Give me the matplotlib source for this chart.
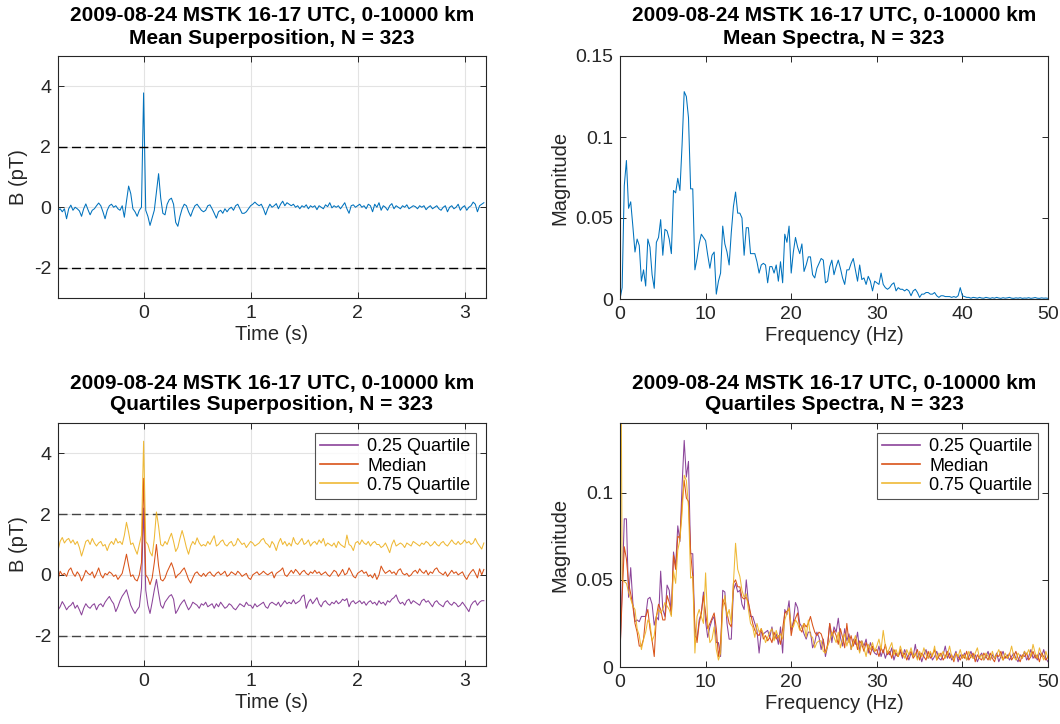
import numpy as np
import matplotlib
matplotlib.use("Agg")
import matplotlib.pyplot as plt
from matplotlib import ticker

plt.rcParams['font.family'] = ['Liberation Sans', 'DejaVu Sans']
plt.rcParams['axes.unicode_minus'] = False

# time axis: samples every 0.02 s starting at -0.8 s
t_start = -0.8
dt = 0.02
# spectra: 0.25 Hz bins starting at 0 Hz
df = 0.25

title_line1 = "2009-08-24 MSTK 16-17 UTC, 0-10000 km"
n_events = 323
legend_labels = ["0.25 Quartile", "Median", "0.75 Quartile"]

mean_b = [
    -0.10, -0.05, -0.15, -0.05, -0.38, -0.05, 0.07, -0.10, 0.00, -0.05,
    -0.12, -0.30, -0.05, 0.11, -0.08, -0.25, -0.10, -0.05, 0.05, 0.14,
    0.05, -0.15, -0.38, -0.10, 0.05, 0.10, 0.00, 0.05, -0.05, -0.10,
    0.05, -0.33, 0.20, 0.70, 0.45, -0.05, -0.15, -0.30, -0.10, 0.00,
    3.78, -0.10, -0.30, -0.60, -0.35, -0.10, 0.50, 1.11, 0.30, -0.20,
    -0.25, 0.10, 0.25, 0.30, 0.10, -0.50, -0.63, -0.30, -0.05, 0.10,
    0.05, -0.15, -0.30, -0.10, 0.05, 0.10, 0.00, -0.10, -0.15, -0.10,
    0.05, 0.08, -0.05, -0.20, -0.36, -0.15, -0.10, -0.20, -0.05, -0.15,
    -0.05, 0.00, -0.10, 0.05, 0.10, -0.05, -0.20, -0.20, -0.15, -0.05,
    0.05, 0.10, 0.17, 0.10, 0.05, 0.10, -0.05, -0.25, -0.05, 0.10,
    0.00, 0.05, 0.12, -0.05, 0.10, 0.20, 0.05, 0.15, 0.10, 0.05,
    0.10, 0.00, 0.05, -0.05, 0.05, 0.00, 0.08, -0.05, 0.05, 0.00,
    0.05, -0.08, 0.05, 0.00, -0.05, 0.08, 0.02, 0.15, -0.02, 0.05,
    0.00, 0.05, -0.05, 0.05, 0.15, -0.05, -0.20, 0.05, 0.08, 0.00,
    0.05, 0.10, 0.00, 0.05, -0.05, 0.10, 0.05, -0.15, 0.10, 0.00,
    0.15, -0.10, 0.05, 0.00, -0.10, 0.05, 0.12, -0.05, 0.05, 0.00,
    -0.05, 0.05, 0.00, 0.08, -0.05, 0.00, 0.05, 0.02, -0.05, 0.05,
    0.00, 0.05, -0.08, 0.00, 0.05, -0.05, 0.00, 0.05, -0.05, -0.10,
    0.00, 0.05, -0.15, 0.00, 0.05, -0.05, 0.00, 0.10, -0.10, 0.00,
    0.05, -0.10, 0.00, 0.05, 0.17, 0.10, -0.15, 0.05, 0.10, 0.15,
]

q25_b = [
    -1.16, -1.05, -0.88, -1.00, -1.15, -1.05, -1.00, -0.90, -1.10, -1.00,
    -1.15, -1.32, -1.10, -0.95, -1.05, -1.10, -1.00, -0.95, -1.15, -1.00,
    -0.95, -1.05, -0.90, -0.80, -0.71, -0.85, -0.95, -1.21, -1.05, -0.85,
    -0.70, -0.60, -0.49, -0.75, -1.00, -1.15, -1.27, -1.15, -1.05, -0.43,
    2.20, -0.50, -1.00, -1.27, -0.90, -0.50, -0.15, -0.60, -1.00, -1.10,
    -0.90, -0.80, -0.70, -0.65, -0.80, -1.27, -1.15, -1.00, -0.90, -0.82,
    -1.00, -1.15, -1.05, -0.90, -0.95, -1.00, -1.10, -0.95, -1.00, -0.90,
    -1.05, -1.00, -0.95, -1.10, -0.95, -1.05, -0.90, -1.00, -1.10, -1.05,
    -0.95, -1.00, -1.10, -1.15, -1.05, -0.95, -1.00, -1.05, -0.90, -1.00,
    -1.00, -1.10, -0.95, -1.05, -1.00, -0.95, -0.90, -1.05, -1.10, -0.95,
    -0.90, -0.95, -1.00, -0.90, -1.05, -0.95, -0.85, -0.95, -0.90, -0.95,
    -0.82, -0.95, -0.90, -0.85, -0.71, -0.66, -1.10, -0.90, -0.80, -0.95,
    -0.85, -0.75, -0.95, -1.05, -0.90, -0.85, -0.95, -1.00, -0.90, -0.95,
    -0.85, -0.95, -0.90, -0.80, -0.85, -0.78, -1.05, -0.90, -0.85, -0.95,
    -0.90, -0.85, -0.95, -0.88, -1.00, -0.90, -0.85, -0.95, -0.90, -1.00,
    -0.85, -0.95, -0.90, -1.00, -0.85, -0.90, -0.80, -0.75, -0.66, -0.85,
    -0.95, -0.90, -1.00, -0.85, -0.80, -0.95, -0.85, -0.90, -0.95, -1.00,
    -0.85, -0.80, -0.90, -0.85, -0.95, -1.05, -0.90, -0.85, -0.95, -1.00,
    -1.05, -0.90, -0.85, -0.95, -1.00, -0.90, -0.95, -1.05, -1.00, -0.90,
    -1.00, -1.10, -1.21, -1.00, -0.90, -0.85, -1.00, -0.90, -0.85, -0.85,
]

median_b = [
    -0.15, 0.12, 0.00, 0.05, -0.05, 0.15, 0.23, 0.05, -0.05, 0.10,
    0.00, -0.20, -0.05, 0.15, 0.05, 0.00, 0.10, -0.10, 0.05, 0.23,
    0.00, -0.10, 0.05, 0.00, 0.10, 0.05, -0.05, 0.00, -0.15, -0.05,
    0.05, 0.35, 0.68, 0.30, -0.05, 0.00, -0.15, -0.20, 0.00, 0.40,
    3.18, 0.00, -0.10, -0.32, -0.10, 0.40, 1.00, 0.30, -0.15, -0.20,
    -0.10, 0.10, 0.25, 0.40, 0.20, -0.10, 0.00, 0.05, 0.15, 0.23,
    0.05, -0.15, -0.27, -0.10, 0.05, 0.10, 0.00, -0.05, 0.05, -0.05,
    0.05, 0.10, 0.00, -0.05, 0.05, 0.10, 0.00, 0.05, 0.12, -0.05,
    0.00, 0.10, 0.05, 0.00, 0.12, 0.05, -0.05, 0.00, 0.05, -0.10,
    -0.15, 0.00, 0.05, 0.10, 0.00, 0.05, 0.12, 0.05, 0.00, 0.05,
    0.10, -0.10, 0.05, 0.10, 0.15, 0.23, 0.00, -0.05, 0.05, 0.15,
    0.05, 0.18, 0.10, 0.00, 0.10, 0.15, 0.05, 0.00, 0.10, 0.05,
    0.15, 0.05, 0.10, 0.00, 0.05, 0.10, 0.00, -0.05, 0.05, 0.15,
    0.10, -0.05, 0.05, 0.18, 0.00, 0.05, 0.23, 0.10, -0.05, -0.10,
    0.05, 0.10, 0.15, 0.05, 0.10, -0.05, 0.00, -0.10, 0.05, -0.15,
    0.00, 0.29, 0.15, 0.05, 0.10, 0.15, 0.05, 0.10, 0.00, 0.15,
    0.20, 0.05, 0.00, 0.05, -0.05, 0.00, 0.10, 0.15, 0.05, 0.20,
    0.10, 0.05, 0.15, 0.00, 0.10, 0.05, 0.18, 0.23, 0.10, 0.05,
    0.00, 0.10, -0.05, 0.05, 0.15, 0.05, 0.10, 0.00, 0.05, 0.10,
    -0.05, -0.15, 0.00, 0.10, 0.18, 0.05, -0.10, 0.20, 0.00, 0.18,
]

q75_b = [
    0.80, 1.10, 1.23, 1.05, 1.15, 1.20, 1.05, 1.15, 1.00, 1.10,
    0.90, 0.62, 0.85, 1.10, 1.15, 1.00, 1.20, 1.05, 0.95, 1.05,
    1.10, 0.95, 1.00, 0.80, 1.00, 1.10, 1.00, 1.20, 1.05, 1.10,
    1.00, 1.30, 1.73, 1.40, 1.00, 1.05, 0.85, 0.68, 1.00, 1.30,
    4.40, 1.10, 1.00, 0.75, 0.62, 1.20, 2.07, 1.60, 1.00, 0.95,
    1.10, 1.00, 1.20, 1.37, 1.10, 0.77, 0.90, 1.20, 1.46, 1.20,
    0.90, 0.68, 0.95, 1.10, 1.00, 1.22, 1.05, 0.95, 1.00, 0.95,
    1.10, 1.00, 1.15, 1.29, 0.95, 1.00, 1.10, 1.15, 1.00, 0.95,
    1.05, 1.10, 0.95, 1.00, 1.20, 1.10, 1.00, 1.05, 0.90, 1.00,
    1.10, 1.05, 0.95, 1.00, 1.05, 1.15, 1.20, 1.05, 1.00, 0.90,
    1.10, 1.00, 0.80, 1.05, 1.20, 1.00, 1.10, 0.95, 1.05, 0.95,
    1.23, 1.05, 1.00, 1.10, 1.20, 1.00, 1.05, 1.15, 0.95, 1.05,
    1.10, 1.00, 1.15, 1.05, 1.20, 0.95, 1.05, 1.00, 0.95, 1.05,
    0.90, 1.10, 1.00, 0.95, 0.90, 1.31, 1.00, 0.95, 0.80, 1.05,
    1.10, 1.00, 1.15, 1.05, 1.00, 1.10, 0.95, 1.05, 1.10, 1.00,
    1.00, 0.90, 0.95, 1.05, 0.90, 0.73, 1.00, 1.15, 0.95, 1.00,
    1.05, 1.00, 0.90, 1.05, 1.00, 0.95, 1.10, 1.05, 1.00, 0.95,
    1.05, 1.00, 1.10, 1.05, 0.95, 1.00, 1.10, 1.00, 0.95, 1.05,
    1.10, 1.00, 0.95, 1.05, 1.15, 1.05, 1.00, 1.10, 1.00, 1.05,
    1.15, 1.05, 1.10, 1.00, 1.05, 1.20, 1.05, 0.95, 0.85, 1.05,
]

mean_spec = [
    0.000, 0.007, 0.070, 0.0855, 0.056, 0.060, 0.045, 0.029, 0.037, 0.033,
    0.011, 0.018, 0.008, 0.037, 0.032, 0.015, 0.0066, 0.035, 0.038, 0.049,
    0.027, 0.043, 0.042, 0.037, 0.028, 0.067, 0.0655, 0.0745, 0.067, 0.095,
    0.128, 0.125, 0.112, 0.068, 0.068, 0.018, 0.025, 0.034, 0.040, 0.038,
    0.036, 0.027, 0.019, 0.027, 0.029, 0.003, 0.011, 0.016, 0.045, 0.034,
    0.029, 0.021, 0.041, 0.057, 0.066, 0.053, 0.053, 0.050, 0.027, 0.044,
    0.044, 0.028, 0.028, 0.028, 0.023, 0.016, 0.021, 0.022, 0.021, 0.010,
    0.020, 0.020, 0.016, 0.021, 0.011, 0.023, 0.010, 0.040, 0.035, 0.045,
    0.016, 0.029, 0.038, 0.032, 0.028, 0.034, 0.017, 0.021, 0.026, 0.026,
    0.015, 0.013, 0.019, 0.022, 0.025, 0.024, 0.010, 0.011, 0.020, 0.024,
    0.015, 0.020, 0.024, 0.019, 0.013, 0.009, 0.018, 0.018, 0.022, 0.025,
    0.018, 0.011, 0.021, 0.012, 0.013, 0.009, 0.014, 0.011, 0.005, 0.011,
    0.010, 0.009, 0.016, 0.009, 0.007, 0.006, 0.007, 0.009, 0.010, 0.005,
    0.007, 0.006, 0.006, 0.005, 0.006, 0.005, 0.002, 0.005, 0.006, 0.004,
    0.001, 0.003, 0.003, 0.004, 0.004, 0.003, 0.003, 0.004, 0.002, 0.001,
    0.002, 0.002, 0.0015, 0.0015, 0.0015, 0.001, 0.0015, 0.001, 0.002, 0.007,
    0.002, 0.0015, 0.001, 0.001, 0.0005, 0.001, 0.0008, 0.0005, 0.001, 0.0006,
    0.0005, 0.001, 0.0007, 0.0004, 0.0008, 0.0005, 0.001, 0.0006, 0.0004, 0.0008,
    0.0005, 0.0007, 0.001, 0.0005, 0.0004, 0.0007, 0.0005, 0.0008, 0.0004, 0.0006,
    0.0005, 0.0008, 0.0004, 0.0006, 0.0009, 0.0005, 0.0004, 0.0007, 0.0005, 0.0006,
    0.0004,
]

q25_spec = [
    0.008, 0.045, 0.085, 0.085, 0.040, 0.057, 0.037, 0.026, 0.027, 0.026,
    0.029, 0.029, 0.029, 0.039, 0.040, 0.036, 0.024, 0.029, 0.027, 0.055,
    0.033, 0.029, 0.047, 0.044, 0.030, 0.066, 0.058, 0.081, 0.072, 0.104,
    0.130, 0.109, 0.118, 0.065, 0.065, 0.018, 0.016, 0.027, 0.031, 0.043,
    0.026, 0.017, 0.023, 0.027, 0.029, 0.014, 0.014, 0.006, 0.044, 0.043,
    0.025, 0.016, 0.016, 0.044, 0.048, 0.043, 0.044, 0.036, 0.033, 0.050,
    0.037, 0.029, 0.029, 0.025, 0.021, 0.008, 0.020, 0.019, 0.020, 0.021,
    0.017, 0.023, 0.016, 0.019, 0.013, 0.023, 0.008, 0.033, 0.030, 0.038,
    0.021, 0.026, 0.037, 0.034, 0.025, 0.023, 0.019, 0.016, 0.020, 0.020,
    0.011, 0.014, 0.020, 0.017, 0.010, 0.016, 0.006, 0.012, 0.025, 0.014,
    0.023, 0.020, 0.028, 0.017, 0.012, 0.022, 0.015, 0.019, 0.010, 0.016,
    0.013, 0.020, 0.009, 0.015, 0.012, 0.016, 0.008, 0.014, 0.010, 0.008,
    0.007, 0.012, 0.006, 0.010, 0.005, 0.009, 0.007, 0.011, 0.004, 0.008,
    0.006, 0.009, 0.005, 0.010, 0.007, 0.004, 0.008, 0.006, 0.013, 0.005,
    0.008, 0.003, 0.007, 0.010, 0.005, 0.008, 0.004, 0.006, 0.009, 0.005,
    0.004, 0.007, 0.012, 0.005, 0.008, 0.004, 0.006, 0.009, 0.003, 0.007,
    0.005, 0.008, 0.004, 0.006, 0.009, 0.005, 0.007, 0.003, 0.006, 0.008,
    0.004, 0.006, 0.009, 0.004, 0.007, 0.005, 0.008, 0.003, 0.006, 0.009,
    0.005, 0.007, 0.004, 0.006, 0.008, 0.005, 0.003, 0.007, 0.005, 0.009,
    0.004, 0.006, 0.010, 0.005, 0.007, 0.004, 0.008, 0.006, 0.010, 0.005,
    0.003,
]

median_spec = [
    0.008, 0.040, 0.069, 0.062, 0.048, 0.042, 0.035, 0.025, 0.020, 0.012,
    0.012, 0.016, 0.029, 0.033, 0.022, 0.015, 0.006, 0.029, 0.036, 0.033,
    0.027, 0.027, 0.041, 0.037, 0.031, 0.064, 0.056, 0.075, 0.074, 0.094,
    0.107, 0.097, 0.095, 0.066, 0.052, 0.023, 0.014, 0.025, 0.031, 0.041,
    0.031, 0.022, 0.025, 0.028, 0.031, 0.022, 0.006, 0.014, 0.039, 0.036,
    0.031, 0.025, 0.023, 0.048, 0.050, 0.046, 0.046, 0.040, 0.039, 0.040,
    0.037, 0.031, 0.025, 0.021, 0.019, 0.018, 0.022, 0.016, 0.018, 0.015,
    0.017, 0.014, 0.020, 0.016, 0.018, 0.013, 0.022, 0.031, 0.032, 0.033,
    0.018, 0.025, 0.028, 0.031, 0.022, 0.020, 0.025, 0.023, 0.025, 0.029,
    0.024, 0.020, 0.018, 0.020, 0.019, 0.015, 0.008, 0.013, 0.025, 0.018,
    0.021, 0.018, 0.013, 0.022, 0.017, 0.011, 0.025, 0.014, 0.018, 0.012,
    0.016, 0.010, 0.015, 0.013, 0.009, 0.014, 0.011, 0.007, 0.012, 0.009,
    0.010, 0.006, 0.011, 0.008, 0.013, 0.007, 0.009, 0.005, 0.010, 0.007,
    0.006, 0.010, 0.006, 0.008, 0.004, 0.007, 0.009, 0.005, 0.007, 0.010,
    0.004, 0.008, 0.006, 0.004, 0.009, 0.005, 0.007, 0.010, 0.004, 0.006,
    0.008, 0.004, 0.006, 0.009, 0.005, 0.007, 0.003, 0.008, 0.006, 0.004,
    0.007, 0.005, 0.009, 0.004, 0.006, 0.008, 0.003, 0.007, 0.005, 0.004,
    0.008, 0.006, 0.004, 0.008, 0.005, 0.003, 0.007, 0.006, 0.009, 0.004,
    0.006, 0.005, 0.008, 0.004, 0.006, 0.009, 0.005, 0.003, 0.007, 0.006,
    0.008, 0.004, 0.006, 0.009, 0.005, 0.007, 0.003, 0.008, 0.006, 0.004,
    0.006,
]

q75_spec = [
    0.300, 0.050, 0.049, 0.048, 0.043, 0.039, 0.035, 0.033, 0.022, 0.018,
    0.010, 0.016, 0.020, 0.027, 0.025, 0.015, 0.018, 0.029, 0.033, 0.031,
    0.033, 0.037, 0.035, 0.033, 0.029, 0.055, 0.048, 0.067, 0.073, 0.088,
    0.110, 0.107, 0.092, 0.051, 0.052, 0.008, 0.029, 0.033, 0.029, 0.025,
    0.054, 0.025, 0.014, 0.016, 0.023, 0.010, 0.004, 0.008, 0.033, 0.041,
    0.029, 0.033, 0.025, 0.048, 0.071, 0.056, 0.052, 0.044, 0.040, 0.042,
    0.033, 0.025, 0.023, 0.017, 0.025, 0.020, 0.022, 0.019, 0.014, 0.017,
    0.020, 0.022, 0.015, 0.021, 0.017, 0.019, 0.016, 0.027, 0.031, 0.034,
    0.023, 0.023, 0.027, 0.025, 0.021, 0.023, 0.025, 0.017, 0.027, 0.018,
    0.017, 0.011, 0.014, 0.015, 0.015, 0.009, 0.008, 0.012, 0.015, 0.020,
    0.017, 0.014, 0.020, 0.011, 0.016, 0.019, 0.012, 0.017, 0.010, 0.014,
    0.018, 0.013, 0.008, 0.015, 0.011, 0.006, 0.013, 0.010, 0.014, 0.009,
    0.012, 0.016, 0.010, 0.021, 0.012, 0.008, 0.011, 0.014, 0.007, 0.010,
    0.006, 0.012, 0.008, 0.005, 0.010, 0.007, 0.011, 0.006, 0.008, 0.004,
    0.009, 0.006, 0.011, 0.007, 0.005, 0.009, 0.006, 0.012, 0.004, 0.008,
    0.006, 0.009, 0.005, 0.007, 0.012, 0.006, 0.004, 0.008, 0.006, 0.010,
    0.005, 0.007, 0.004, 0.009, 0.006, 0.005, 0.008, 0.011, 0.005, 0.007,
    0.004, 0.008, 0.006, 0.004, 0.009, 0.005, 0.007, 0.010, 0.006, 0.004,
    0.008, 0.005, 0.007, 0.012, 0.006, 0.004, 0.008, 0.006, 0.005, 0.009,
    0.007, 0.010, 0.006, 0.013, 0.008, 0.005, 0.011, 0.007, 0.004, 0.009,
    0.005,
]

BLUE = '#0072BD'
PURPLE = '#7E2F8E'
ORANGE = '#D95319'
YELLOW = '#EDB120'
AX_COL = '#262626'
LW = 0.75


def time_axis(values):
    return t_start + dt * np.arange(len(values))


def freq_axis(values):
    return df * np.arange(len(values))


def style_axes(ax, grid=False):
    for s in ax.spines.values():
        s.set_color(AX_COL)
        s.set_linewidth(0.8)
    ax.tick_params(direction='in', length=4, width=0.7, colors=AX_COL,
                   labelsize=14, top=True, right=True, pad=5)
    ax.yaxis.set_major_formatter(ticker.FuncFormatter(lambda v, p: '%g' % v))
    ax.xaxis.set_major_formatter(ticker.FuncFormatter(lambda v, p: '%g' % v))
    if grid:
        ax.grid(True, color='#e3e3e3', lw=0.8)
        ax.set_axisbelow(True)


def set_title(ax, second):
    ax.set_title(title_line1 + "\n" + second + ", N = %d" % n_events,
                 fontsize=15, fontweight='bold', color='black',
                 linespacing=1.2, pad=9)


def labels(ax, xl, yl):
    ax.set_xlabel(xl, fontsize=14.5, color=AX_COL, labelpad=2)
    ax.set_ylabel(yl, fontsize=14.5, color=AX_COL, labelpad=4)


def add_legend(ax):
    leg = ax.legend(loc='upper right', fontsize=13, frameon=True, fancybox=False,
                    handlelength=2.1, borderpad=0.3, labelspacing=0.12,
                    handletextpad=0.5, borderaxespad=0.55)
    leg.get_frame().set_edgecolor(AX_COL)
    leg.get_frame().set_linewidth(0.8)
    for line in leg.get_lines():
        line.set_linewidth(1.2)


fig = plt.figure(figsize=(10.6, 7.24), dpi=100)
W, H = 1060.0, 724.0
ax_tl = fig.add_axes([58 / W, 1 - 298 / H, 428 / W, 242 / H])
ax_tr = fig.add_axes([620 / W, 1 - 299 / H, 428 / W, 243 / H])
ax_bl = fig.add_axes([58 / W, 1 - 666 / H, 428 / W, 243 / H])
ax_br = fig.add_axes([620 / W, 1 - 667 / H, 428 / W, 244 / H])

dash = (0, (6.5, 3.2))

# mean superposition
ax = ax_tl
style_axes(ax, grid=True)
ax.plot(time_axis(mean_b), mean_b, color=BLUE, lw=LW)
ax.axhline(2, color='black', ls=dash, lw=1.0)
ax.axhline(-2, color='black', ls=dash, lw=1.0)
ax.set_xlim(-0.8, 3.2)
ax.set_ylim(-3, 5)
ax.set_xticks([0, 1, 2, 3])
ax.set_yticks([-2, 0, 2, 4])
labels(ax, 'Time (s)', 'B (pT)')
set_title(ax, "Mean Superposition")

# mean spectra
ax = ax_tr
style_axes(ax)
ax.plot(freq_axis(mean_spec), mean_spec, color=BLUE, lw=LW)
ax.set_xlim(0, 50)
ax.set_ylim(0, 0.15)
ax.set_xticks([0, 10, 20, 30, 40, 50])
ax.set_yticks([0, 0.05, 0.1, 0.15])
labels(ax, 'Frequency (Hz)', 'Magnitude')
set_title(ax, "Mean Spectra")

# quartiles superposition
ax = ax_bl
style_axes(ax, grid=True)
ax.axhline(2, color='#444444', ls=dash, lw=1.0)
ax.axhline(-2, color='#444444', ls=dash, lw=1.0)
ax.plot(time_axis(q25_b), q25_b, color=PURPLE, lw=LW, alpha=0.9, label=legend_labels[0])
ax.plot(time_axis(median_b), median_b, color=ORANGE, lw=LW, label=legend_labels[1])
ax.plot(time_axis(q75_b), q75_b, color=YELLOW, lw=LW, alpha=0.9, label=legend_labels[2])
ax.set_xlim(-0.8, 3.2)
ax.set_ylim(-3, 5)
ax.set_xticks([0, 1, 2, 3])
ax.set_yticks([-2, 0, 2, 4])
labels(ax, 'Time (s)', 'B (pT)')
set_title(ax, "Quartiles Superposition")
add_legend(ax)

# quartiles spectra
ax = ax_br
style_axes(ax)
ax.plot(freq_axis(q25_spec), q25_spec, color=PURPLE, lw=LW, alpha=0.9, label=legend_labels[0])
ax.plot(freq_axis(median_spec), median_spec, color=ORANGE, lw=LW, label=legend_labels[1])
ax.plot(freq_axis(q75_spec), q75_spec, color=YELLOW, lw=LW, alpha=0.9, label=legend_labels[2])
ax.set_xlim(0, 50)
ax.set_ylim(0, 0.14)
ax.set_xticks([0, 10, 20, 30, 40, 50])
ax.set_yticks([0, 0.05, 0.1])
labels(ax, 'Frequency (Hz)', 'Magnitude')
set_title(ax, "Quartiles Spectra")
add_legend(ax)

fig.savefig('out.png', dpi=100, facecolor='white')
